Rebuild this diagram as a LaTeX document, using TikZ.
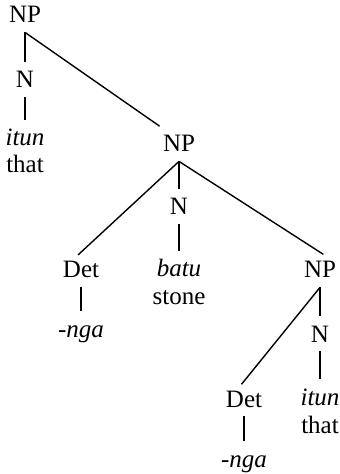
\documentclass[tikz,border=0pt]{standalone}
\usepackage{fontspec}
\setmainfont{Liberation Serif}

\begin{document}
\begin{tikzpicture}[x=0.5pt,y=-0.5pt,
        cat/.style={anchor=base,font=\fontsize{12.5}{15}\selectfont,text height=8.2pt,text depth=0pt,inner xsep=1.5pt,inner ysep=4.5pt},
        word/.style={cat,font=\fontsize{12.5}{15}\selectfont\itshape},
        branch/.style={line width=0.7pt},
        reach/.style={branch,shorten >=-2pt}]
    \useasboundingbox (0,0) rectangle (339,474);

    % Top level
    \node[cat] (np1) at (25,23) {NP};

    % Level 1
    \node[cat] (n1) at (25,88) {N};
    \node[word] (itun1) at (25,146) {itun};
    \node[cat] (that1) at (25,173) {that};

    % Level 2
    \node[cat] (np2) at (179,152) {NP};
    \node[cat] (n2) at (179,215) {N};
    \node[word] (batu) at (179,277) {batu};
    \node[cat] (stone) at (179,305) {stone};

    % Level 3
    \node[cat] (det1) at (81,278) {Det};
    \node[word] (nga1) at (81,337) {-nga};
    \node[cat] (np3) at (320,278) {NP};
    \node[cat] (n3) at (320,342) {N};
    \node[word] (itun3) at (320,405) {itun};
    \node[cat] (that3) at (320,433) {that};

    % Level 4
    \node[cat] (det2) at (244,407) {Det};
    \node[word] (nga2) at (244,467) {-nga};

    % Edges from top NP
    \draw[branch] (np1.south) -- (n1.north);
    \draw[branch] (np1.south) -- (np2.north west);
    \draw[branch] (n1.south) -- (itun1.north);

    % Edges from middle NP
    \draw[reach] (np2.south) -- (det1.north);
    \draw[branch] (np2.south) -- (n2.north);
    \draw[reach] (np2.south) -- (np3.north);
    \draw[branch] (det1.south) -- (nga1.north);
    \draw[branch] (n2.south) -- (batu.north);

    % Edges from lowest NP
    \draw[reach] (np3.south) -- (det2.north);
    \draw[branch] (np3.south) -- (n3.north);
    \draw[branch] (det2.south) -- (nga2.north);
    \draw[branch] (n3.south) -- (itun3.north);
\end{tikzpicture}
\end{document}
